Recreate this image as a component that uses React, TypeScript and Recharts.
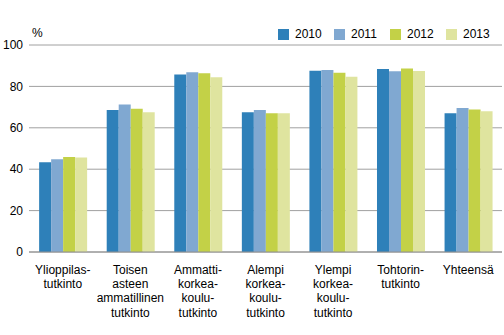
import { BarChart, Bar, XAxis, YAxis, CartesianGrid } from "recharts";

const categories = [
  "Ylioppilas-\ntutkinto",
  "Toisen\nasteen\nammatillinen\ntutkinto",
  "Ammatti-\nkorkea-\nkoulu-\ntutkinto",
  "Alempi\nkorkea-\nkoulu-\ntutkinto",
  "Ylempi\nkorkea-\nkoulu-\ntutkinto",
  "Tohtorin-\ntutkinto",
  "Yhteensä",
];

const years = ["2010", "2011", "2012", "2013"];
const colors = ["#2e80b9", "#80a8d1", "#c3d147", "#dfe49f"];

const v2010 = [43.3, 68.6, 85.8, 67.5, 87.6, 88.4, 67.0];
const v2011 = [44.8, 71.2, 86.8, 68.6, 87.9, 87.3, 69.6];
const v2012 = [45.9, 69.2, 86.3, 67.0, 86.6, 88.7, 68.9];
const v2013 = [45.6, 67.5, 84.4, 67.0, 84.7, 87.4, 68.0];

const yTicks = [0, 20, 40, 60, 80, 100];

const data = categories.map((name, i) => ({
  name,
  "2010": v2010[i],
  "2011": v2011[i],
  "2012": v2012[i],
  "2013": v2013[i],
}));

const font = "'Liberation Sans', Arial, sans-serif";

function CategoryTick(props: any) {
  const { x, y, payload } = props;
  const lines = String(payload.value).split("\n");
  return (
    <text x={x} y={y + 5} textAnchor="middle" fontSize={12} fill="#000" fontFamily={font}>
      {lines.map((l, i) => (
        <tspan key={i} x={x} dy={i === 0 ? "0.71em" : 14.4}>
          {l}
        </tspan>
      ))}
    </text>
  );
}

// legend drawn outside the chart so it doesn't push the plot down
function LegendBox() {
  return (
    <div
      style={{
        position: "absolute",
        left: 278,
        top: 27,
        display: "flex",
        fontFamily: font,
        fontSize: 12,
        color: "#000",
      }}
    >
      {years.map((y, i) => (
        <div key={y} style={{ display: "flex", alignItems: "center", width: 56 }}>
          <span style={{ width: 11, height: 11, background: colors[i], marginRight: 6 }} />
          <span>{y}</span>
        </div>
      ))}
    </div>
  );
}

export default function App() {
  return (
    <div style={{ position: "absolute", left: 0, top: 0, width: 504, height: 335, background: "#fff" }}>
      <BarChart
        width={504}
        height={335}
        data={data}
        margin={{ top: 45, right: 2, left: 0, bottom: 0 }}
        barCategoryGap="15%"
        barGap={0}
      >
        <CartesianGrid vertical={false} stroke="#a0a0a0" />
        <XAxis
          dataKey="name"
          interval={0}
          tickLine={false}
          axisLine={{ stroke: "#909090" }}
          tick={<CategoryTick />}
          height={83}
        />
        <YAxis
          width={29}
          domain={[0, 100]}
          ticks={yTicks}
          tickLine={false}
          axisLine={false}
          tickSize={0}
          tickMargin={6}
          tick={{ fontSize: 12, fill: "#000", fontFamily: font }}
        />
        {years.map((y, i) => (
          <Bar key={y} dataKey={y} fill={colors[i]} isAnimationActive={false} />
        ))}
      </BarChart>
      <LegendBox />
      <div style={{ position: "absolute", left: 32, top: 26, fontFamily: font, fontSize: 12 }}>%</div>
    </div>
  );
}
